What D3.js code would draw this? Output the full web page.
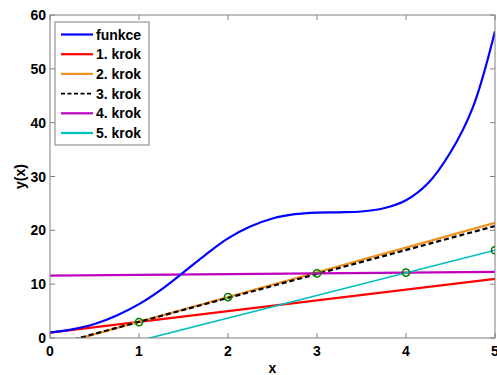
<!DOCTYPE html>
<html><head><meta charset="utf-8">
<script src="https://cdn.jsdelivr.net/npm/d3@7"></script>
<style>body{margin:0;background:#fff}svg{display:block}text{font-family:"Liberation Sans",Arial,sans-serif;font-weight:bold}</style>
</head><body><svg id="c" width="497" height="375"></svg>
<script>
const xTicks = [0,1,2,3,4,5];
const yTicks = [0,10,20,30,40,50,60];
const curveX = [0,0.25,0.5,0.75,1,1.25,1.5,1.75,2,2.25,2.5,2.75,3,3.25,3.5,3.75,4,4.25,4.5,4.75,5];
const curveY = [1.0,1.6,2.6,4.2,6.3,9.0,12.2,15.5,18.5,20.7,22.2,23.0,23.3,23.35,23.5,24.1,25.6,28.8,34.5,42.8,57.0];
const seriesNames = ["funkce","1. krok","2. krok","3. krok","4. krok","5. krok"];
const seriesColors = ["#0000ff","#ff0000","#f0901e","#000000","#bf00bf","#00bfbf"];
// step lines: [x at start, y at start, x at end, y at end]
const stepStartX = [0,0,0,0,0];
const stepStartY = [1.0,-1.6,-1.45,11.58,-4.7];
const stepEndX = [5,5,5,5,5];
const stepEndY = [11.0,21.4,20.8,12.28,16.3];
const pointsX = [1,2,3,4,5];
const pointsY = [2.95,7.6,12.0,12.15,16.3];

const svg = d3.select("#c");
const L=50,R=495,T=15,B=338;
const x = d3.scaleLinear().domain([0,5]).range([L,R]);
const y = d3.scaleLinear().domain([0,60]).range([B,T]);
const grey="#808080";

svg.append("defs").append("clipPath").attr("id","clip").append("rect")
  .attr("x",L).attr("y",T).attr("width",R-L).attr("height",B-T);
const g = svg.append("g").attr("clip-path","url(#clip)");

const widths=[2.2,2.2,2.2,2.2,1.6];
for(let i=0;i<5;i++){
  const ln = g.append("line")
    .attr("x1",x(stepStartX[i])).attr("y1",y(stepStartY[i]))
    .attr("x2",x(stepEndX[i])).attr("y2",y(stepEndY[i]))
    .attr("stroke",seriesColors[i+1]).attr("stroke-width",widths[i]);
  if(i===2) ln.attr("stroke-dasharray","5,3");
}
const line = d3.line().x((d,i)=>x(curveX[i])).y(d=>y(d)).curve(d3.curveCatmullRom);
g.append("path").attr("d",line(curveY)).attr("fill","none").attr("stroke",seriesColors[0]).attr("stroke-width",2.2);
g.selectAll("circle").data(pointsX).enter().append("circle")
  .attr("cx",d=>x(d)).attr("cy",(d,i)=>y(pointsY[i])).attr("r",3.6)
  .attr("fill","none").attr("stroke","#008000").attr("stroke-width",1.6);

svg.append("rect").attr("x",L).attr("y",T).attr("width",R-L).attr("height",B-T)
  .attr("fill","none").attr("stroke",grey).attr("stroke-width",1);
const tl=5;
xTicks.forEach(t=>{
  svg.append("line").attr("x1",x(t)).attr("x2",x(t)).attr("y1",B).attr("y2",B-tl).attr("stroke",grey);
  svg.append("line").attr("x1",x(t)).attr("x2",x(t)).attr("y1",T).attr("y2",T+tl).attr("stroke",grey);
  svg.append("text").attr("x",x(t)).attr("y",B+18).attr("text-anchor","middle").attr("font-size",14).text(t);
});
yTicks.forEach(t=>{
  svg.append("line").attr("x1",L).attr("x2",L+tl).attr("y1",y(t)).attr("y2",y(t)).attr("stroke",grey);
  svg.append("line").attr("x1",R).attr("x2",R-tl).attr("y1",y(t)).attr("y2",y(t)).attr("stroke",grey);
  svg.append("text").attr("x",L-4).attr("y",y(t)+5).attr("text-anchor","end").attr("font-size",14).text(t);
});
svg.append("text").attr("x",(L+R)/2).attr("y",373).attr("text-anchor","middle").attr("font-size",14).text("x");
svg.append("text").attr("transform","translate(25,"+((T+B)/2)+") rotate(-90)").attr("text-anchor","middle").attr("font-size",14).text("y(x)");

const lg = svg.append("g");
lg.append("rect").attr("x",55).attr("y",22).attr("width",94).attr("height",123).attr("fill","#fff").attr("stroke",grey);
seriesNames.forEach((n,i)=>{
  const yy = 34.5+i*19.7;
  const l = lg.append("line").attr("x1",61).attr("x2",93).attr("y1",yy).attr("y2",yy)
    .attr("stroke",seriesColors[i]).attr("stroke-width",2.2);
  if(i===3) l.attr("stroke-dasharray","4,2.5").attr("stroke-width",1.8);
  lg.append("text").attr("x",96).attr("y",yy+5).attr("font-size",14).text(n);
});
</script></body></html>
